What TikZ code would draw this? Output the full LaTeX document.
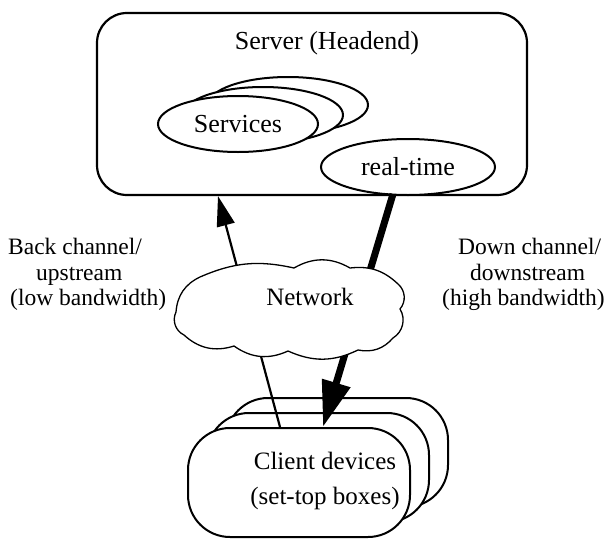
\documentclass[tikz,border=0pt]{standalone}
\usepackage{fontspec}
\setmainfont{Liberation Serif}
\usetikzlibrary{arrows.meta,shapes.geometric,calc}

\begin{document}
\begin{tikzpicture}[x=1pt,y=-1pt,
  bigtext/.style={font=\fontsize{26}{30}\selectfont},
  midtext/.style={font=\fontsize{25}{35}\selectfont},
  sidetext/.style={font=\fontsize{23.5}{26}\selectfont, inner sep=0pt, anchor=base west},
  serverbox/.style={draw, line width=2.2pt, rectangle, rounded corners=30pt,
    minimum width=430pt, minimum height=182pt, inner sep=0pt},
  svcell/.style={draw, fill=white, ellipse, line width=2pt, inner sep=0pt,
    minimum width=160pt, minimum height=56pt},
  clientbox/.style={draw, fill=white, rectangle, line width=2pt,
    rounded corners=42pt, minimum width=222pt, minimum height=109pt, inner sep=0pt},
  thinarrow/.style={line width=2.2pt, -{Triangle[length=30pt,width=18pt]}},
  thickarrow/.style={line width=7pt, -{Triangle[length=46pt,width=28pt]}},
  puff/.style={bend left=#1},
  cloudline/.style={draw, fill=white, line width=1.3pt, line join=round}
]
\useasboundingbox (0,0) rectangle (607,538);

% server (headend)
\node[serverbox] (server) at (312,104) {};
\node[bigtext] (srvtitle) at (327,43) {Server (Headend)};

% stack of service ellipses
\node[svcell] (svc3) at (288,105) {};
\node[svcell] (svc2) at (263,115) {};
\node[svcell, bigtext] (svc1) at (238,124) {Services};

% real-time service
\node[svcell, bigtext, minimum width=174pt] (rt) at (408,167) {real-time};

% stack of client devices
\node[clientbox] (cl3) at (337,452.5) {};
\node[clientbox] (cl2) at (318,467.5) {};
\node[clientbox] (cl1) at (299,482.5) {};
\node[midtext, align=center, inner sep=0pt] (cltext) at (325,481) {Client devices\\(set-top boxes)};

% channels
\coordinate (upfrom) at ($(cl1.north)+(-19,0)$);
\coordinate (upto) at ($(server.south)+(-94,0)$);
\coordinate (downfrom) at ($(rt.south)+(-15,-2)$);
\coordinate (downto) at ($(cl1.north)+(24,0)$);
\draw[thinarrow] (upfrom) -- (upto);
\draw[thickarrow] (downfrom) -- (downto);

% network cloud, drawn as a ring of shallow puffs
\path[cloudline] (176,312)
  to[puff=30] (200,277)
  to[puff=18] (294,268)
  to[puff=30] (350,268)
  to[puff=25] (398,284)
  to[puff=45] (400,309)
  to[puff=45] (393,338)
  to[puff=30] (358,350)
  to[puff=25] (288,351)
  to[puff=30] (234,346)
  to[puff=30] (184,335)
  to[puff=45] cycle;
\node[midtext] (net) at (310,297) {Network};

% channel labels
\node[sidetext] (bc1) at (8,254) {Back channel/};
\node[sidetext] (bc2) at (36,280) {upstream};
\node[sidetext] (bc3) at (10,305) {(low bandwidth)};
\node[sidetext] (dc1) at (458,254) {Down channel/};
\node[sidetext] (dc2) at (470,280) {downstream};
\node[sidetext] (dc3) at (442,305) {(high bandwidth)};
\end{tikzpicture}
\end{document}
